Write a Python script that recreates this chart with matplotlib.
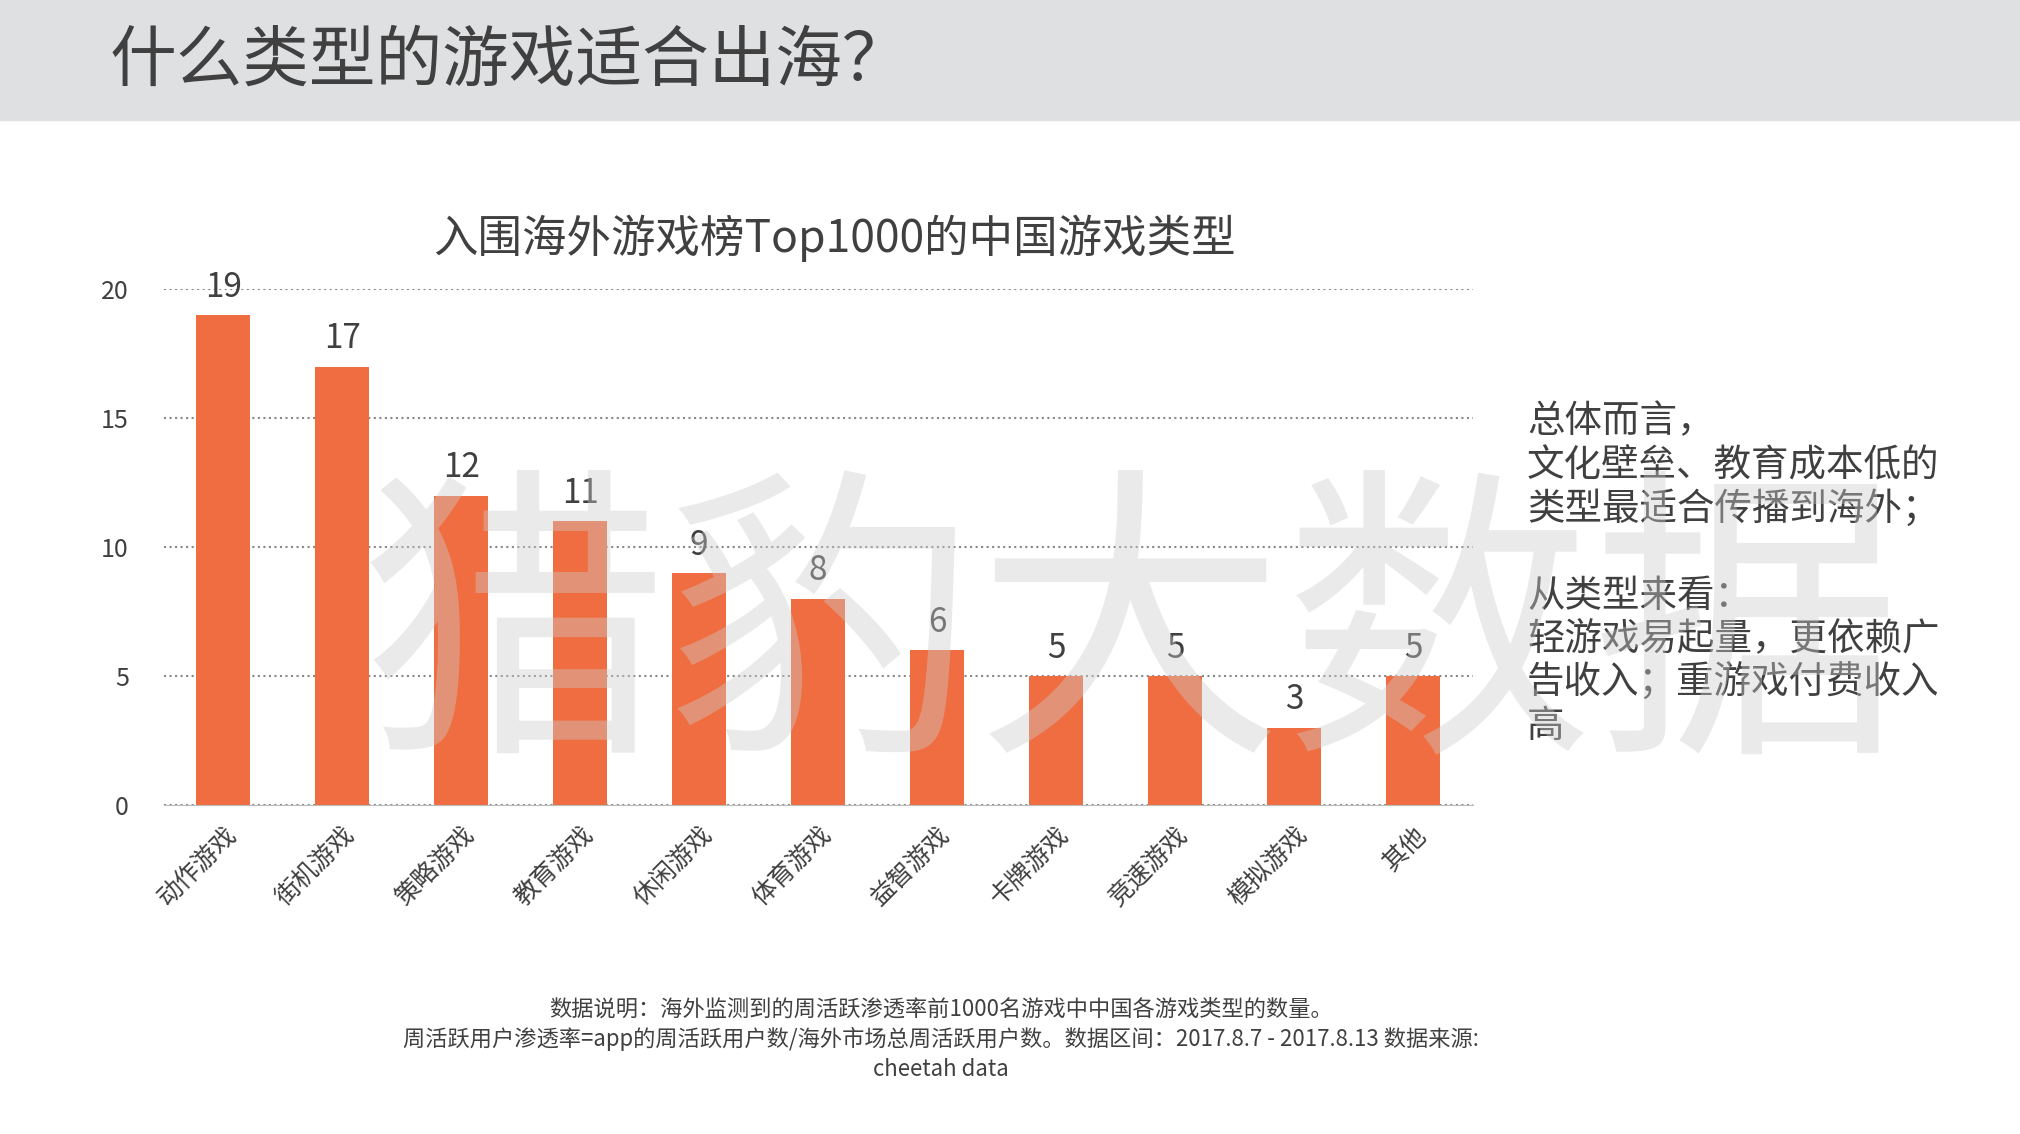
import numpy as np
import matplotlib.pyplot as plt
from matplotlib.patches import Rectangle

plt.rcParams['font.family'] = ['Noto Sans CJK SC', 'DejaVu Sans']

categories = ['动作游戏', '街机游戏', '策略游戏', '教育游戏', '休闲游戏', '体育游戏',
              '益智游戏', '卡牌游戏', '竞速游戏', '模拟游戏', '其他']
counts = [19, 17, 12, 11, 9, 8, 6, 5, 5, 3, 5]
yticks = [0, 5, 10, 15, 20]

fig = plt.figure(figsize=(20.2, 11.34), dpi=100)
fig.patches.append(Rectangle((0, 0.894), 1, 0.106, transform=fig.transFigure,
                             color='#dfe0e2', zorder=0))
fig.text(0.054, 0.945, '什么类型的游戏适合出海？', fontsize=48, color='#404040', va='center')

ax = fig.add_axes([0.081, 0.290, 0.648, 0.455])
x = np.arange(len(categories))
ax.bar(x, counts, width=0.45, color='#ef6d40', zorder=2)
for xi, v in zip(x, counts):
    ax.text(xi, v + 0.4, str(v), ha='center', va='bottom', fontsize=24, color='#404040')
ax.set_ylim(0, 20)
ax.set_xlim(-0.5, len(categories) - 0.5)
ax.set_yticks(yticks)
ax.tick_params(axis='y', length=0, labelsize=18, labelcolor='#404040', pad=25)
ax.set_xticks(x)
ax.set_xticklabels(categories, rotation=45, ha='right', rotation_mode='anchor',
                   fontsize=18, color='#404040')
ax.tick_params(axis='x', length=0, pad=12)
ax.grid(axis='y', linestyle=':', color='#888888', linewidth=1.5, zorder=1)
for s in ['top', 'right', 'left']:
    ax.spines[s].set_visible(False)
ax.spines['bottom'].set_color('#bbbbbb')

fig.text(0.413, 0.790, '入围海外游戏榜Top1000的中国游戏类型', fontsize=32,
         color='#404040', ha='center', va='center')

fig.text(0.56, 0.435, '猎豹大数据', fontsize=222, color='#cccccc', alpha=0.4,
         ha='center', va='center', zorder=5)

right_text = ('总体而言，\n文化壁垒、教育成本低的\n类型最适合传播到海外；\n\n'
              '从类型来看：\n轻游戏易起量，更依赖广\n告收入；重游戏付费收入\n高')
fig.text(0.756, 0.645, right_text, fontsize=27, color='#404040', va='top',
         linespacing=1.15)

note = ('数据说明：海外监测到的周活跃渗透率前1000名游戏中中国各游戏类型的数量。\n'
        '周活跃用户渗透率=app的周活跃用户数/海外市场总周活跃用户数。数据区间：2017.8.7 - 2017.8.13 数据来源:\n'
        'cheetah data')
fig.text(0.466, 0.047, note, fontsize=16, color='#404040', ha='center', va='bottom',
         linespacing=1.35)

fig.savefig('out.png', dpi=100)
